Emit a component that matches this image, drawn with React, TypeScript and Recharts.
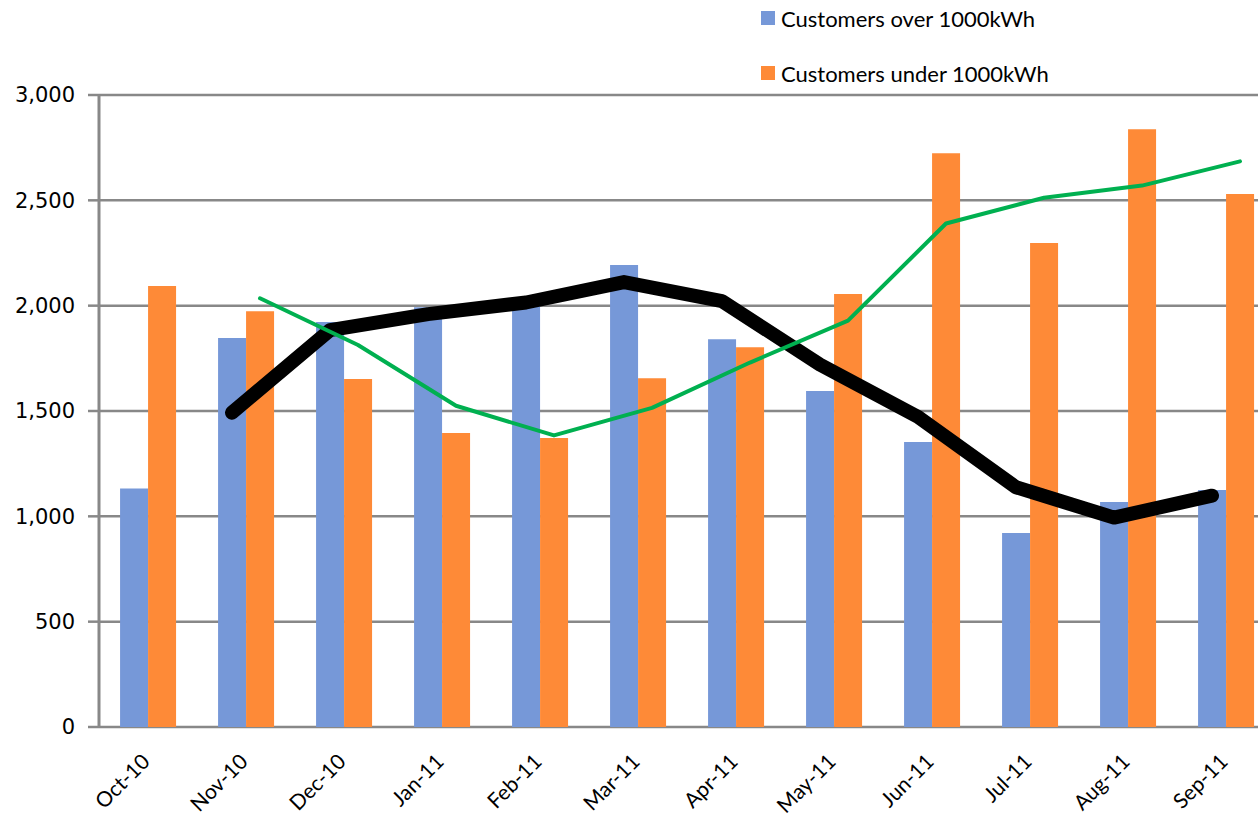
import React from 'react';
import { ComposedChart, Bar, Line, XAxis, YAxis, CartesianGrid, Legend } from 'recharts';

const months = ['Oct-10','Nov-10','Dec-10','Jan-11','Feb-11','Mar-11','Apr-11','May-11','Jun-11','Jul-11','Aug-11','Sep-11'];
const over1000 = [1132,1846,1922,1993,2032,2193,1841,1595,1353,921,1068,1125];
const under1000 = [2093,1974,1652,1395,1372,1656,1803,2055,2724,2297,2838,2530];
// trend lines (no value for the first month)
const overTrend = [null,1492,1884,1960,2015,2112,2022,1720,1472,1138,994,1098];
const underTrend = [null,2035,1813,1525,1384,1515,1730,1929,2390,2512,2570,2685];
const yTicks = [0,500,1000,1500,2000,2500,3000];
const edgeTicks = [0,1,2,3,4,5,6,7,8,9,10,11,12];

const data = months.map((m,i)=>({month:m, over:over1000[i], under:under1000[i], overT:overTrend[i], underT:underTrend[i]}));

const BLUE = '#7698D8';
const ORANGE = '#FE8A37';
const GRID = '#888888';

const MonthTick = (props:any) => {
  const {x,y,payload} = props;
  return (
    <g transform={`translate(${x+3},${y+28})`}>
      <text textAnchor="end" transform="rotate(-45)" fontFamily="Lato, 'Open Sans', sans-serif" fontSize={21} fill="#000">{payload.value}</text>
    </g>
  );
};

const renderLegend = (props:any) => {
  const items = (props.payload||[]).filter((p:any)=>p.type!=='none');
  return (
    <div style={{fontFamily:"Lato, 'Open Sans', sans-serif", fontSize:22, color:'#000'}}>
      {items.map((p:any,i:number)=>(
        <div key={i} style={{display:'flex', alignItems:'center', height:28, marginBottom:i===0?27:0}}>
          <span style={{display:'inline-block', width:14, height:14, background:p.color, marginRight:6}}/>
          <span>{p.value}</span>
        </div>
      ))}
    </div>
  );
};

export default function App(){
  return (
    <div style={{position:'fixed', left:0, top:0, width:1258, height:819, overflow:'hidden', background:'#fff'}}>
      <ComposedChart width={1290} height={819} data={data} margin={{top:95, right:15, bottom:0, left:0}} barCategoryGap="21.5%" barGap={0}>
        <CartesianGrid horizontal vertical={false} stroke={GRID} strokeWidth={2.5}/>
        <XAxis xAxisId="edge" type="number" domain={[0,12]} ticks={edgeTicks} height={0} tick={()=> <g/>} tickLine={{stroke:GRID, strokeWidth:2.5}} tickSize={9} axisLine={{stroke:GRID, strokeWidth:3}} allowDataOverflow/>
        <XAxis dataKey="month" height={92} axisLine={false} tickLine={false} tick={<MonthTick/>} interval={0}/>
        <XAxis xAxisId="blk" dataKey="month" hide padding={{left:-14, right:14}}/>
        <XAxis xAxisId="grn" dataKey="month" hide padding={{left:14, right:-14}}/>
        <YAxis width={99} domain={[0,3000]} ticks={yTicks} tickFormatter={(v:number)=>v.toLocaleString('en-US')} tick={{fill:'#000', fontSize:21, fontFamily:"'DejaVu Sans', sans-serif"}} tickLine={{stroke:GRID, strokeWidth:2.5}} tickSize={11} tickMargin={13} axisLine={{stroke:GRID, strokeWidth:3}}/>
        <Legend verticalAlign="middle" align="center" layout="vertical" content={renderLegend} wrapperStyle={{position:'absolute', top:4, left:761, width:400}}/>
        <Bar dataKey="over" name="Customers over 1000kWh" fill={BLUE} isAnimationActive={false}/>
        <Bar dataKey="under" name="Customers under 1000kWh" fill={ORANGE} isAnimationActive={false}/>
        <Line xAxisId="blk" dataKey="overT" stroke="#000" strokeWidth={14} strokeLinecap="round" strokeLinejoin="round" dot={false} legendType="none" isAnimationActive={false}/>
        <Line xAxisId="grn" dataKey="underT" stroke="#00B050" strokeWidth={4} strokeLinecap="round" strokeLinejoin="round" dot={false} legendType="none" isAnimationActive={false}/>
      </ComposedChart>
    </div>
  );
}
